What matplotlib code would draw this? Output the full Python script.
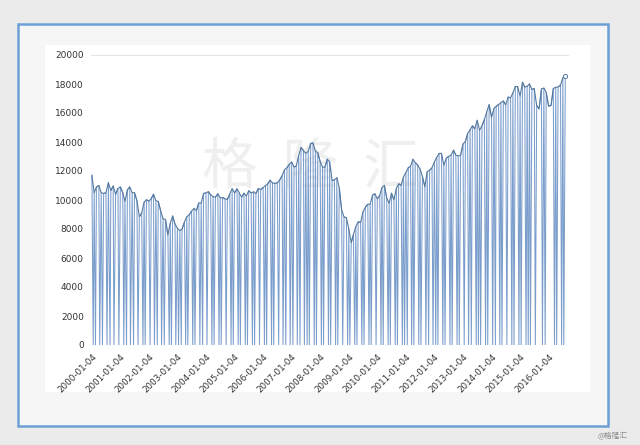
import numpy as np
import pandas as pd
import matplotlib
matplotlib.use("Agg")
import matplotlib.pyplot as plt
from matplotlib.patches import Rectangle

plt.rcParams['font.family'] = ['DejaVu Sans', 'Noto Sans CJK SC']

# Dow Jones index, month by month, 2000-01 .. 2016-08
djia_monthly = [
    11700, 10500, 10900, 11000, 10500, 10450, 10500, 11200, 10650, 10970, 10400, 10790,  # 2000
    10900, 10500, 9900, 10700, 10900, 10500, 10500, 9950, 8850, 9100, 9850, 10020,       # 2001
    9920, 10100, 10400, 9950, 9900, 9240, 8700, 8660, 7590, 8400, 8900, 8340,            # 2002
    8050, 7890, 7990, 8480, 8850, 8980, 9230, 9420, 9275, 9800, 9780, 10450,             # 2003
    10490, 10580, 10360, 10230, 10190, 10435, 10140, 10170, 10080, 10030, 10430, 10780,  # 2004
    10490, 10770, 10500, 10190, 10470, 10275, 10640, 10480, 10570, 10440, 10800, 10720,  # 2005
    10860, 10990, 11110, 11370, 11170, 11150, 11185, 11380, 11680, 12080, 12220, 12460,  # 2006
    12620, 12270, 12350, 13060, 13630, 13400, 13210, 13360, 13900, 13930, 13370, 13260,  # 2007
    12650, 12270, 12260, 12820, 12640, 11350, 11380, 11540, 10850, 9325, 8830, 8780,     # 2008
    8000, 7060, 7610, 8170, 8500, 8450, 9170, 9500, 9710, 9710, 10340, 10430,            # 2009
    10070, 10330, 10860, 11010, 10140, 9770, 10470, 10010, 10790, 11120, 11010, 11580,   # 2010
    11890, 12230, 12320, 12810, 12570, 12410, 12140, 11610, 10910, 11960, 12050, 12220,  # 2011
    12630, 12950, 13210, 13210, 12390, 12880, 13010, 13090, 13440, 13100, 13030, 13100,  # 2012
    13860, 14050, 14580, 14840, 15120, 14910, 15500, 14810, 15130, 15550, 16090, 16580,  # 2013
    15700, 16320, 16460, 16580, 16720, 16830, 16560, 17100, 17040, 17390, 17830, 17820,  # 2014
    17160, 18130, 17780, 17840, 18010, 17620, 17690, 16530, 16280, 17660, 17720, 17430,  # 2015
    16470, 16520, 17690, 17770, 17790, 17930, 18430, 18550,                              # 2016
]

# days where the sheet holds 0 instead of a close
zero_days = [
    "2000-01-20", "2000-02-18", "2000-04-12", "2000-05-17", "2000-07-14", "2000-08-22", "2000-10-11", "2000-12-13",
    "2001-02-14", "2001-03-21", "2001-05-10", "2001-06-19", "2001-08-15", "2001-10-17", "2001-11-14",
    "2002-01-16", "2002-03-13", "2002-04-18", "2002-06-12", "2002-07-17", "2002-09-18", "2002-10-16", "2002-12-11",
    "2003-01-15", "2003-02-19", "2003-04-16", "2003-05-14", "2003-07-16", "2003-08-13", "2003-10-15", "2003-11-19",
    "2004-01-14", "2004-03-17", "2004-04-14", "2004-06-16", "2004-07-14", "2004-09-15", "2004-11-17", "2004-12-15",
    "2005-02-16", "2005-03-16", "2005-05-18", "2005-06-15", "2005-08-17", "2005-09-14", "2005-11-16",
    "2006-01-18", "2006-02-15", "2006-04-19", "2006-05-17", "2006-07-19", "2006-09-13", "2006-10-18", "2006-12-13",
    "2007-01-17", "2007-03-14", "2007-04-18", "2007-06-13", "2007-07-18", "2007-08-15", "2007-10-17", "2007-11-14",
    "2008-01-16", "2008-02-13", "2008-04-16", "2008-05-14", "2008-07-16", "2008-08-13", "2008-10-15", "2008-12-17",
    "2009-01-14", "2009-03-18", "2009-04-15", "2009-06-17", "2009-07-15", "2009-09-16", "2009-10-14", "2009-12-16",
    "2010-02-17", "2010-03-17", "2010-05-19", "2010-06-16", "2010-08-18", "2010-09-15", "2010-11-17", "2010-12-15",
    "2011-01-19", "2011-03-16", "2011-04-13", "2011-06-15", "2011-07-13", "2011-09-14", "2011-10-19", "2011-12-14",
    "2012-01-18", "2012-02-15", "2012-04-18", "2012-05-16", "2012-07-18", "2012-08-15", "2012-10-17", "2012-11-14",
    "2013-01-16", "2013-03-13", "2013-04-17", "2013-06-19", "2013-07-17", "2013-08-14", "2013-10-16", "2013-11-13",
    "2014-01-15", "2014-02-19", "2014-04-16", "2014-05-14", "2014-07-16", "2014-09-17", "2014-10-15", "2014-12-17",
    "2015-01-14", "2015-03-18", "2015-04-15", "2015-05-13", "2015-07-15", "2015-10-14", "2015-11-18",
    "2016-03-16", "2016-04-13", "2016-06-15", "2016-07-13",
]

tick_days = ["%d-01-04" % y for y in range(2000, 2017)]
y_ticks = [0, 2000, 4000, 6000, 8000, 10000, 12000, 14000, 16000, 18000, 20000]

months = pd.date_range("2000-01-01", periods=len(djia_monthly), freq="MS")
months = months.where(months > pd.Timestamp("2000-01-03"), pd.Timestamp("2000-01-03"))
closes = pd.Series(djia_monthly, index=months)
s = pd.concat([closes, pd.Series(0, index=pd.to_datetime(zero_days))]).sort_index()

fig = plt.figure(figsize=(6.4, 4.45), dpi=100)
fig.patch.set_facecolor('#ebebeb')

# blue frame and white chart panel
fig.patches.append(Rectangle((18 / 640, 19 / 445), 590 / 640, 402 / 445, transform=fig.transFigure,
                             facecolor='#f6f6f6', edgecolor='#6d9fd5', lw=1.8, zorder=-2))
fig.patches.append(Rectangle((45 / 640, 53 / 445), 545 / 640, 347 / 445, transform=fig.transFigure,
                             facecolor='white', edgecolor='none', zorder=-1))

ax = fig.add_axes([90.8 / 640, 1 - 345 / 445, 478 / 640, 290 / 445])
ax.set_facecolor('none')

ax.text(0.46, 0.61, "格  隆  汇", transform=ax.transAxes, ha='center', va='center',
        fontsize=40, color='#efefef', family=['Noto Sans CJK SC'], zorder=0)

# the full series (zeros give the drops), then the non-zero closes on top
ax.plot(s.index, s.values, color='#7a9dcc', lw=0.75, zorder=2)
ax.plot(closes.index, closes.values, color='#55789f', lw=0.8, zorder=3)
ax.plot(closes.index[-1], closes.values[-1], marker='o', ms=3, mfc='white', mec='#55789f', mew=0.7, zorder=4)

ax.axhline(20000, color='#e4e4e4', lw=0.8, zorder=1)
ax.set_ylim(0, 20000)
ax.set_xlim(pd.Timestamp("1999-12-20"), pd.Timestamp("2016-09-15"))
ax.set_yticks(y_ticks)
ax.set_yticklabels([str(v) for v in y_ticks], fontsize=6.5, color='#333333')
ax.set_xticks(pd.to_datetime(tick_days))
ax.set_xticklabels(tick_days, fontsize=6.3, color='#333333', rotation=45,
                   ha='right', rotation_mode='anchor')
ax.tick_params(length=0, pad=5)
for sp in ax.spines.values():
    sp.set_visible(False)

fig.text(628 / 640, 1 - 436 / 445, "@格隆汇", ha='right', va='center', fontsize=5.5,
         color='#8a8a8a', family=['Noto Sans CJK SC', 'DejaVu Sans'])

fig.savefig("out.png", dpi=100, facecolor=fig.get_facecolor())
